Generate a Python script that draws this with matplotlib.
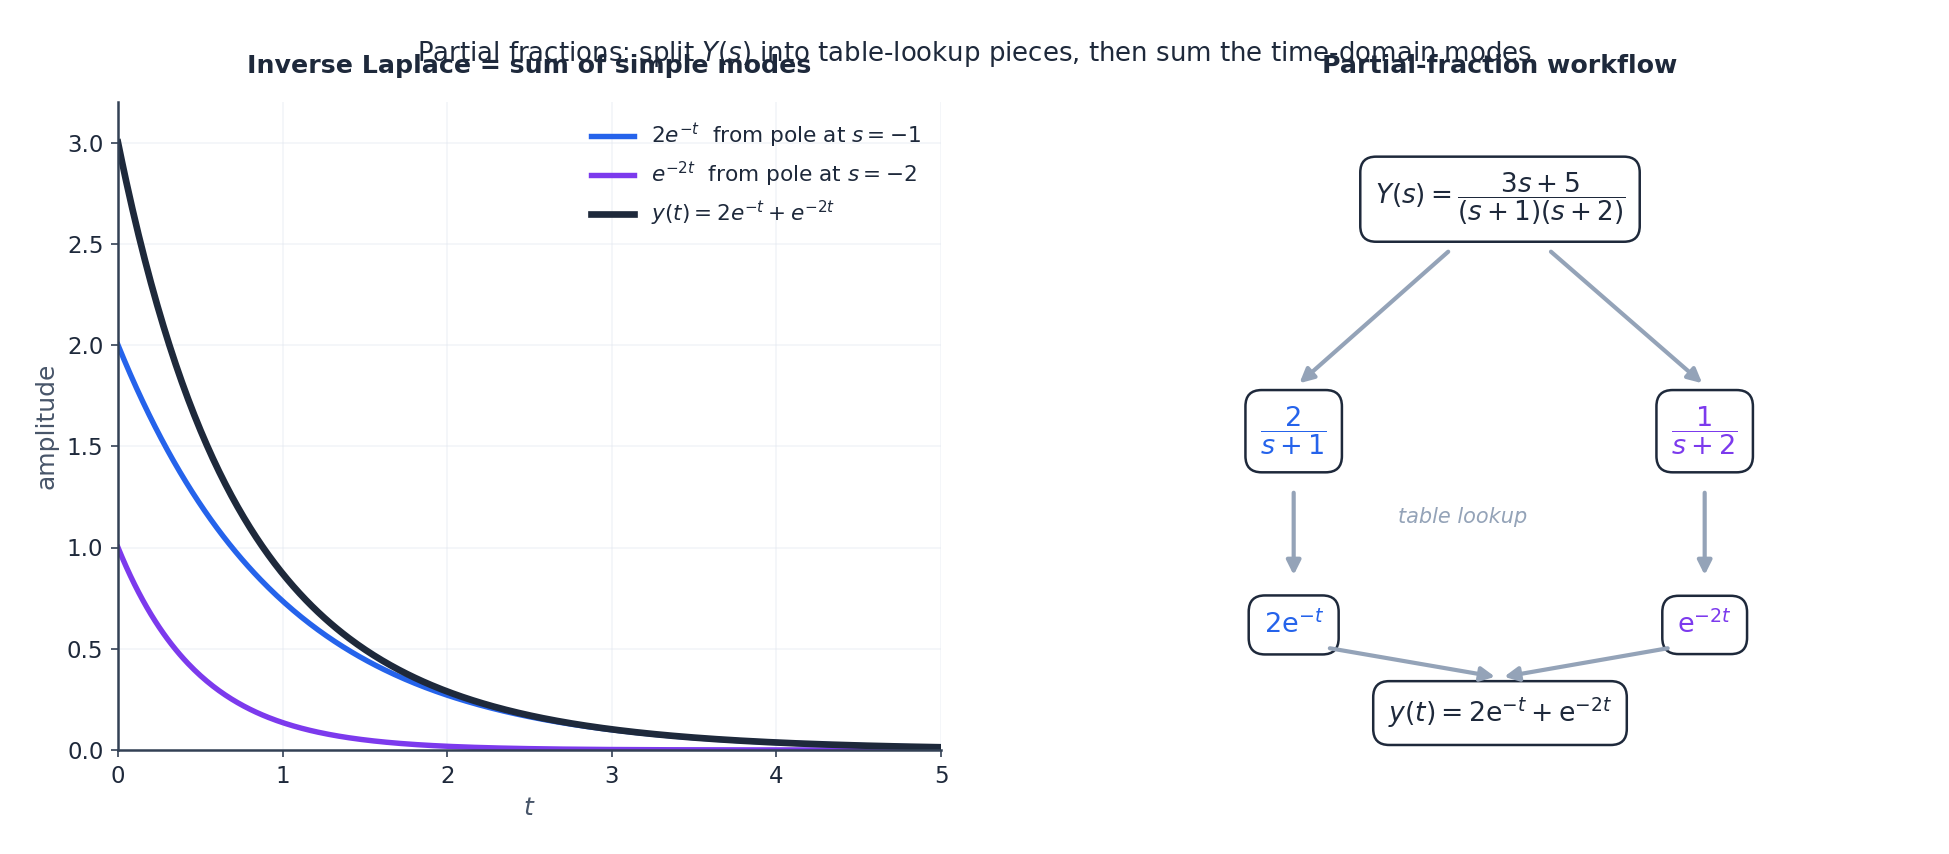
import numpy as np
import matplotlib
matplotlib.use("Agg")
import matplotlib.pyplot as plt

# ---- data ----
residues = [2, 1]          # partial-fraction numerators
poles = [-1, -2]           # poles of Y(s)
t_start, t_end, n_pts = 0.0, 5.0, 400
mode_labels = [r"$2e^{-t}$  from pole at $s=-1$",
               r"$e^{-2t}$  from pole at $s=-2$"]
sum_label = r"$y(t) = 2e^{-t} + e^{-2t}$"
x_ticks = [0, 1, 2, 3, 4, 5]
y_ticks = [0.0, 0.5, 1.0, 1.5, 2.0, 2.5, 3.0]

BLUE = "#2563eb"
PURPLE = "#7c3aed"
DARK = "#1e293b"
GRAY = "#94a3b8"
SLATE = "#475569"

plt.rcParams["font.family"] = ["DejaVu Sans"]

t = np.linspace(t_start, t_end, n_pts)
modes = [r * np.exp(p * t) for r, p in zip(residues, poles)]
total = modes[0] + modes[1]

fig = plt.figure(figsize=(1949 / 150, 854 / 150), dpi=150)
W, H = 1949, 854
def ax_rect(x0, y0, x1, y1):
    return [x0 / W, 1 - y1 / H, (x1 - x0) / W, (y1 - y0) / H]

ax = fig.add_axes(ax_rect(118, 102, 941, 750))
ax2 = fig.add_axes(ax_rect(1089, 102, 1911, 750))

for m, lab, c in zip(modes, mode_labels, [BLUE, PURPLE]):
    ax.plot(t, m, color=c, lw=2.6, label=lab)
ax.plot(t, total, color=DARK, lw=3.2, label=sum_label)
ax.set_xlim(0, 5)
ax.set_ylim(0, 3.2)
ax.set_xticks(x_ticks)
ax.set_yticks(y_ticks)
ax.grid(True, color="#e2e8f0", lw=0.8, alpha=0.45)
for s in ["top", "right"]:
    ax.spines[s].set_visible(False)
for s in ["left", "bottom"]:
    ax.spines[s].set_color("#334155")
    ax.spines[s].set_linewidth(1.2)
ax.tick_params(colors="#334155", labelcolor=DARK, labelsize=11)
ax.set_xlabel(r"$t$", color=SLATE, fontsize=12)
ax.set_ylabel("amplitude", color=SLATE, fontsize=12)
ax.set_title("Inverse Laplace = sum of simple modes", fontsize=12.1,
             fontweight="bold", color=DARK, pad=14)
leg = ax.legend(loc="upper right", frameon=False, fontsize=10.4,
                labelspacing=0.45)
for txt in leg.get_texts():
    txt.set_color(DARK)

# ---- workflow panel ----
ax2.set_xlim(0, 1)
ax2.set_ylim(0, 1)
ax2.axis("off")
ax2.set_title("Partial-fraction workflow", fontsize=12.1, fontweight="bold",
              color=DARK, pad=14)

box = dict(boxstyle="round,pad=0.55,rounding_size=0.6", fc="white",
           ec=DARK, lw=1.2)
ax2.text(0.5, 0.850, r"$Y(s) = \dfrac{3s+5}{(s+1)(s+2)}$", ha="center",
         va="center", fontsize=12.6, color=DARK, bbox=box)
ax2.text(0.249, 0.492, r"$\dfrac{2}{s+1}$", ha="center", va="center",
         fontsize=13, color=BLUE, bbox=box)
ax2.text(0.749, 0.492, r"$\dfrac{1}{s+2}$", ha="center", va="center",
         fontsize=13, color=PURPLE, bbox=box)
ax2.text(0.454, 0.360, "table lookup", ha="center", va="center",
         fontsize=10, color=GRAY, style="italic")
ax2.text(0.249, 0.193, r"$2\mathrm{e}^{-t}$", ha="center", va="center",
         fontsize=13, color=BLUE, bbox=box)
ax2.text(0.749, 0.193, r"$\mathrm{e}^{-2t}$", ha="center", va="center",
         fontsize=13, color=PURPLE, bbox=box)
ax2.text(0.5, 0.057, r"$y(t) = 2\mathrm{e}^{-t} + \mathrm{e}^{-2t}$",
         ha="center", va="center", fontsize=12.8, color=DARK, bbox=box)

arrows = [((0.437, 0.769), (0.256, 0.566)),
          ((0.562, 0.769), (0.746, 0.566)),
          ((0.249, 0.397), (0.249, 0.270)),
          ((0.749, 0.397), (0.749, 0.270)),
          ((0.293, 0.157), (0.494, 0.113)),
          ((0.704, 0.157), (0.505, 0.113))]
for (x0, y0), (x1, y1) in arrows:
    ax2.annotate("", xy=(x1, y1), xytext=(x0, y0),
                 arrowprops=dict(arrowstyle="-|>", color=GRAY, lw=2,
                                 mutation_scale=14, shrinkA=0, shrinkB=0))

fig.suptitle(r"Partial fractions: split $Y(s)$ into table-lookup pieces, then sum the time-domain modes",
             fontsize=12.5, color=DARK, y=1 - 54 / H, va="center")

fig.savefig("out.png", dpi=150)
